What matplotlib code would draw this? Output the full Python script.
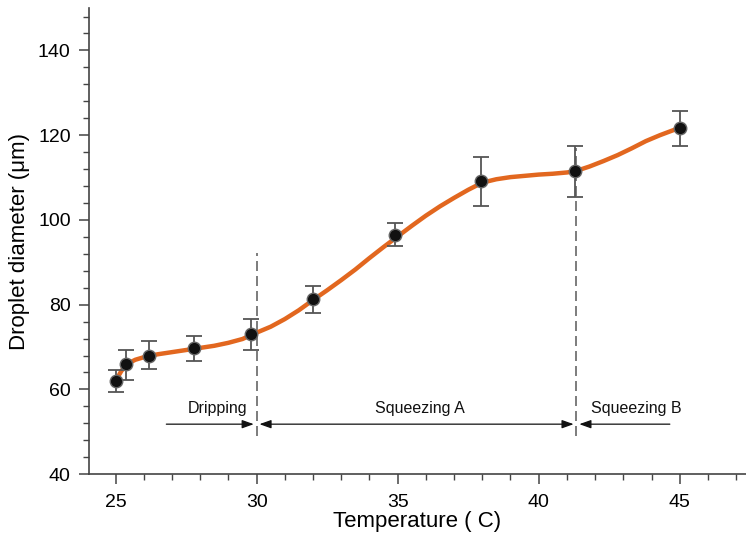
import matplotlib.pyplot as plt
from matplotlib.ticker import MultipleLocator

plt.rcParams['font.family'] = ['Liberation Sans', 'DejaVu Sans']

# measured droplet diameters with error bars
temp = [25.0, 25.36, 26.18, 27.77, 29.79, 32.0, 34.9, 37.96, 41.28, 45.02]
diam = [61.9, 66.1, 68.0, 69.7, 73.0, 81.3, 96.5, 109.1, 111.5, 121.8]
err_low = [59.4, 62.3, 64.8, 66.7, 69.4, 78.0, 93.8, 103.4, 105.4, 117.4]
err_high = [64.5, 69.4, 71.4, 72.5, 76.6, 84.3, 99.2, 114.8, 117.4, 125.8]

# fitted trend curve
curve_x = [25.0, 25.2, 25.4, 25.7, 26.0, 26.5, 27.0, 27.5, 28.0, 28.5, 29.0, 29.5, 30.0,
           30.5, 31.0, 31.5, 32.0, 32.5, 33.0, 33.5, 34.0, 34.5, 35.0, 35.5, 36.0, 36.5,
           37.0, 37.5, 38.0, 38.5, 39.0, 39.5, 40.0, 40.5, 41.0, 41.3, 41.8, 42.3, 42.8,
           43.3, 43.8, 44.3, 44.7, 45.02]
curve_y = [62.0, 64.3, 66.0, 67.0, 67.6, 68.3, 68.8, 69.3, 69.8, 70.3, 71.0, 71.9, 73.4,
           74.8, 76.6, 78.7, 81.1, 83.4, 85.8, 88.3, 91.0, 93.6, 96.1, 98.6, 101.0, 103.2,
           105.2, 107.1, 108.8, 109.6, 110.1, 110.4, 110.7, 110.9, 111.2, 111.5, 112.6, 113.9,
           115.3, 116.9, 118.6, 120.0, 121.0, 121.8]

# regime boundaries
boundaries = [30.0, 41.34]
boundary_tops = [92.3, 117.0]
regime_labels = ['Dripping', 'Squeezing A', 'Squeezing B']
label_x = [28.6, 35.8, 43.45]

fig = plt.figure(figsize=(7.46, 5.37), dpi=100)
ax = fig.add_axes([0.119, 0.117, 0.881, 0.868])

ax.plot(curve_x, curve_y, color='#E2671F', lw=3.2, zorder=2, solid_capstyle='round')

yerr = [[d - lo for d, lo in zip(diam, err_low)], [hi - d for d, hi in zip(diam, err_high)]]
ax.errorbar(temp, diam, yerr=yerr, fmt='none', ecolor='#555555', elinewidth=1.3,
            capsize=6, capthick=1.3, zorder=3)
ax.plot(temp, diam, 'o', color='#111111', markeredgecolor='#666666', markeredgewidth=1.0,
        markersize=9, zorder=4)

for bx, top in zip(boundaries, boundary_tops):
    ax.plot([bx, bx], [49.0, top], color='#666666', lw=1.2, ls=(0, (6, 3)), zorder=1)

arrow_y = 51.8
arrow_kw = dict(arrowstyle='-|>,head_length=0.7,head_width=0.25', color='#111111', lw=0.9,
                shrinkA=0, shrinkB=0)
ax.annotate('', xy=(boundaries[0] - 0.1, arrow_y), xytext=(26.8, arrow_y), arrowprops=arrow_kw)
ax.annotate('', xy=(boundaries[1] - 0.1, arrow_y), xytext=(boundaries[0] + 0.1, arrow_y),
            arrowprops=dict(arrow_kw, arrowstyle='<|-|>,head_length=0.7,head_width=0.25'))
ax.annotate('', xy=(boundaries[1] + 0.1, arrow_y), xytext=(44.65, arrow_y), arrowprops=arrow_kw)

for lx, lab in zip(label_x, regime_labels):
    ax.text(lx, 55.6, lab, ha='center', va='center', fontsize=11.5, color='#111111')

ax.set_xlim(24.05, 47.35)
ax.set_ylim(40, 150)
ax.xaxis.set_major_locator(MultipleLocator(5))
ax.xaxis.set_minor_locator(MultipleLocator(1))
ax.yaxis.set_major_locator(MultipleLocator(20))
ax.yaxis.set_minor_locator(MultipleLocator(4))
ax.set_yticks([40, 60, 80, 100, 120, 140])

for side in ['top', 'right']:
    ax.spines[side].set_visible(False)
for side in ['left', 'bottom']:
    ax.spines[side].set_color('#444444')
    ax.spines[side].set_linewidth(1.2)

ax.tick_params(which='major', direction='out', length=7, width=1.1, color='#444444',
               labelsize=14)
ax.tick_params(axis='x', which='major', pad=7)
ax.tick_params(axis='y', which='major', pad=6)
ax.tick_params(which='minor', direction='out', length=4.5, width=1.0, color='#444444')

ax.set_xlabel('Temperature ( C)', fontsize=16, labelpad=0)
ax.set_ylabel('Droplet diameter (μm)', fontsize=16, labelpad=6)

fig.savefig('out.png', dpi=100)
